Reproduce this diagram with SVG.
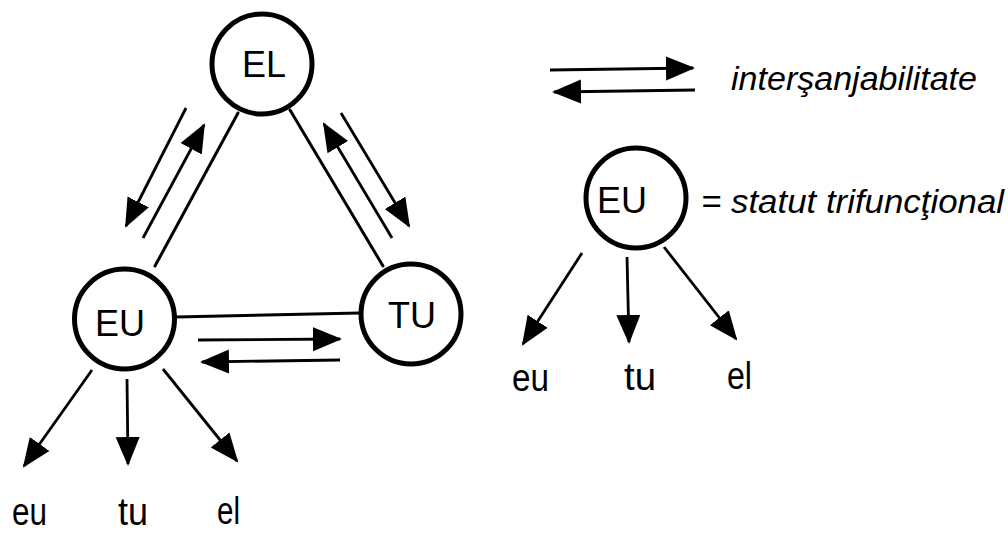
<svg xmlns="http://www.w3.org/2000/svg" width="1008" height="533" viewBox="0 0 1008 533">
<defs>
<marker id="ah" markerUnits="userSpaceOnUse" markerWidth="30" markerHeight="26" refX="27" refY="13" orient="auto" viewBox="0 0 30 26">
<path d="M0,1 L29,13 L0,25 z" fill="#000"/>
</marker>
<style>
.node{fill:#fff;stroke:#000;stroke-width:5}
.nt{font-family:"Liberation Sans",Arial,sans-serif;font-size:36px;fill:#000;text-anchor:middle}
.ln{stroke:#000;stroke-width:3;fill:none;stroke-linecap:round}
.ar{stroke:#000;stroke-width:2.8;fill:none;marker-end:url(#ah)}
.lab{font-family:"Liberation Sans",Arial,sans-serif;font-size:38px;fill:#000}
.it{font-family:"Liberation Sans",Arial,sans-serif;font-style:italic;font-size:34px;fill:#000}
</style>
</defs>
<g id="connectors">
<line class="ln" x1="238" y1="113" x2="155" y2="266"/>
<line class="ln" x1="290" y1="110" x2="383" y2="266"/>
<line class="ln" x1="176" y1="317" x2="360" y2="313"/>
<line class="ar" x1="186" y1="108" x2="126" y2="226"/>
<line class="ar" x1="143" y1="238" x2="204" y2="125"/>
<line class="ar" x1="392" y1="238" x2="324" y2="124"/>
<line class="ar" x1="341" y1="113" x2="409" y2="226"/>
<line class="ar" x1="198" y1="340" x2="340" y2="339"/>
<line class="ar" x1="340" y1="360" x2="202" y2="362"/>
<line class="ar" x1="92" y1="370" x2="24" y2="466"/>
<line class="ar" x1="127" y1="379" x2="128" y2="464"/>
<line class="ar" x1="163" y1="369" x2="237" y2="461"/>
<line class="ar" x1="582" y1="253" x2="523" y2="344"/>
<line class="ar" x1="627" y1="257" x2="629" y2="342"/>
<line class="ar" x1="664" y1="247" x2="736" y2="339"/>
<line class="ar" x1="550" y1="70" x2="693" y2="68"/>
<line class="ar" x1="695" y1="90" x2="554" y2="92"/>
</g>
<g id="node-EL">
<circle class="node" cx="262" cy="64" r="50"/>
<text class="nt" x="264" y="77">EL</text>
</g>
<g id="node-EU">
<circle class="node" cx="124.5" cy="319" r="50"/>
<text class="nt" x="120" y="336">EU</text>
</g>
<g id="node-TU">
<circle class="node" cx="411" cy="314" r="50"/>
<text class="nt" x="412" y="328">TU</text>
</g>
<g id="node-EU-legend">
<circle class="node" cx="636" cy="198" r="50"/>
<text class="nt" x="622" y="213">EU</text>
</g>
<g id="labels">
<text class="lab" x="12" y="525" textLength="35" lengthAdjust="spacingAndGlyphs">eu</text>
<text class="lab" x="118" y="525" textLength="30" lengthAdjust="spacingAndGlyphs">tu</text>
<text class="lab" x="217" y="524" textLength="23" lengthAdjust="spacingAndGlyphs">el</text>
<text class="lab" x="512" y="391" textLength="37" lengthAdjust="spacingAndGlyphs">eu</text>
<text class="lab" x="624" y="390" textLength="32" lengthAdjust="spacingAndGlyphs">tu</text>
<text class="lab" x="727" y="389" textLength="25" lengthAdjust="spacingAndGlyphs">el</text>
<text class="it" x="731" y="90" textLength="246" lengthAdjust="spacingAndGlyphs">interşanjabilitate</text>
<text class="it" x="701" y="213" textLength="303" lengthAdjust="spacingAndGlyphs">= statut trifuncţional</text>
</g>
</svg>
